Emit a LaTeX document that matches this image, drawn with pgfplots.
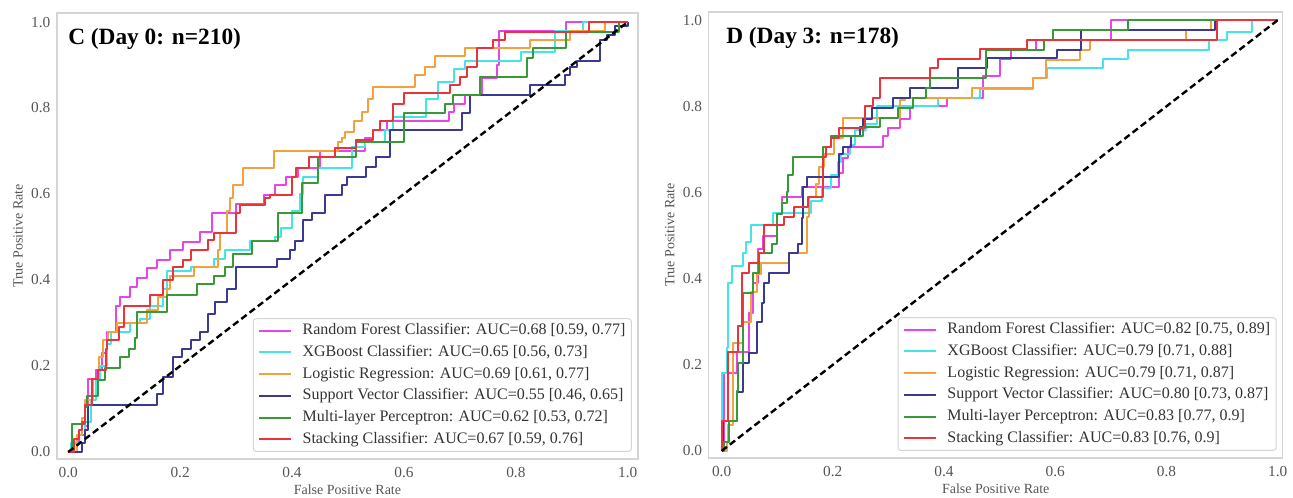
\documentclass[border=0pt]{standalone}
\usepackage{fontspec}
\setmainfont{Liberation Serif}
\usepackage{pgfplots}
\pgfplotsset{compat=1.18}
\usetikzlibrary{calc}

\definecolor{rfcol}{HTML}{E845E8}
\definecolor{xgbcol}{HTML}{45E5E5}
\definecolor{lrcol}{HTML}{F2A13C}
\definecolor{svccol}{HTML}{3A3A90}
\definecolor{mlpcol}{HTML}{379A37}
\definecolor{stkcol}{HTML}{E8343A}
\definecolor{framegray}{HTML}{D5D5D5}
\definecolor{tickgray}{HTML}{555555}

\pgfplotsset{
  roc/.style={
    scale only axis,
    axis line style={draw=framegray, line width=1pt},
    major tick length=0pt, tick style={draw=none},
    xtick={0,0.2,0.4,0.6,0.8,1}, ytick={0,0.2,0.4,0.6,0.8,1},
    /pgf/number format/.cd, fixed, fixed zerofill, precision=1, assume math mode=true, /pgfplots/.cd,
    ticklabel style={font=\fontsize{11.5}{13}\selectfont, text=tickgray},
    xticklabel style={yshift=-3pt},
    yticklabel style={xshift=-1.5pt},
    xlabel={False Positive Rate}, ylabel={True Positive Rate},
    xlabel style={font=\fontsize{10.5}{12}\selectfont, text=tickgray, at={(rel axis cs:0.5,0)}, anchor=center, yshift=-23.25pt},
    ylabel style={font=\fontsize{10.5}{12}\selectfont, text=tickgray, at={($(rel axis cs:0,0.5)+(-29.25pt,0)$)}, anchor=center},
    legend cell align=left,
    legend style={at={(1,0)}, anchor=south east, xshift=-4.5pt, yshift=5.25pt,
      draw=framegray, line width=0.75pt, rounded corners=2pt, fill=white, fill opacity=0.85, text opacity=1,
      font=\fontsize{12}{14}\selectfont, text=black!80, inner xsep=3.5pt, inner ysep=2pt,
      nodes={inner sep=1pt, text height=9pt, text depth=3pt}, row sep=2.3pt, column sep=7pt},
    legend image code/.code={\draw[##1, line width=1.5pt] (0pt,0pt) -- (24pt,0pt);},
    every axis plot/.append style={const plot mark left, no marks, line width=1.5pt, line join=round},
  },
  diag/.style={black, dash pattern=on 5pt off 2.8pt, line width=1.8pt, sharp plot, forget plot},
}

\begin{document}
\begin{tikzpicture}
\path[use as bounding box] (0,0) rectangle (970pt,373.5pt);

% Panel C: Day 0
\begin{axis}[roc, at={(42.75pt,29.25pt)}, anchor=south west,
  width=435.75pt, height=334.5pt,
  xmin=-0.02, xmax=1.018, ymin=-0.016, ymax=1.021]
\addplot[rfcol] coordinates {
 (0,0) (0.01,0.02) (0.02,0.04) (0.03,0.06) (0.036,0.17) (0.05,0.19) (0.06,0.23) (0.07,0.28)
 (0.085,0.34) (0.093,0.36) (0.111,0.384) (0.123,0.404) (0.14,0.427) (0.158,0.447) (0.182,0.47)
 (0.206,0.489) (0.236,0.512) (0.257,0.555) (0.30,0.577) (0.35,0.598) (0.37,0.62) (0.39,0.64)
 (0.41,0.66) (0.45,0.70) (0.53,0.73) (0.545,0.75) (0.57,0.77) (0.68,0.79) (0.69,0.81)
 (0.71,0.83) (0.74,0.87) (0.766,0.90) (0.77,0.98) (0.89,1.0) (1,1)};
\addplot[xgbcol] coordinates {
 (0,0) (0.005,0.02) (0.03,0.07) (0.04,0.12) (0.05,0.17) (0.057,0.2) (0.07,0.25) (0.077,0.28)
 (0.11,0.30) (0.129,0.31) (0.146,0.34) (0.17,0.38) (0.177,0.42) (0.22,0.43) (0.26,0.45)
 (0.28,0.47) (0.325,0.49) (0.37,0.50) (0.38,0.52) (0.40,0.56) (0.415,0.60) (0.42,0.64)
 (0.447,0.66) (0.507,0.71) (0.53,0.72) (0.566,0.75) (0.58,0.78) (0.64,0.82) (0.66,0.86)
 (0.69,0.89) (0.71,0.91) (0.81,0.93) (0.87,0.98) (0.92,1.0) (1,1)};
\addplot[lrcol] coordinates {
 (0,0) (0.016,0.04) (0.025,0.08) (0.03,0.12) (0.045,0.17) (0.055,0.22) (0.063,0.26) (0.071,0.28)
 (0.087,0.30) (0.14,0.33) (0.16,0.36) (0.177,0.38) (0.182,0.41) (0.224,0.43) (0.268,0.47)
 (0.272,0.51) (0.283,0.56) (0.29,0.59) (0.295,0.62) (0.313,0.66) (0.367,0.70) (0.483,0.72)
 (0.49,0.73) (0.495,0.745) (0.51,0.77) (0.525,0.79) (0.535,0.82) (0.545,0.85) (0.62,0.877)
 (0.637,0.895) (0.655,0.92) (0.71,0.94) (0.825,0.958) (0.896,0.98) (0.96,1.0) (1,1)};
\addplot[svccol] coordinates {
 (0,0) (0.024,0.02) (0.03,0.05) (0.036,0.11) (0.159,0.136) (0.17,0.175) (0.188,0.22) (0.203,0.24)
 (0.22,0.26) (0.236,0.28) (0.25,0.32) (0.262,0.35) (0.283,0.38) (0.30,0.43) (0.373,0.45)
 (0.396,0.47) (0.405,0.49) (0.42,0.54) (0.435,0.556) (0.459,0.598) (0.49,0.62) (0.498,0.64)
 (0.533,0.663) (0.55,0.686) (0.575,0.749) (0.703,0.788) (0.718,0.83) (0.825,0.853)
 (0.887,0.877) (0.896,0.895) (0.909,0.91) (0.95,0.958) (0.962,0.97) (0.977,0.99) (1,1)};
\addplot[mlpcol] coordinates {
 (0,0) (0.007,0.064) (0.03,0.105) (0.034,0.13) (0.054,0.167) (0.066,0.195) (0.093,0.22)
 (0.108,0.24) (0.12,0.265) (0.123,0.325) (0.176,0.365) (0.23,0.39) (0.26,0.41) (0.28,0.43)
 (0.295,0.46) (0.328,0.49) (0.375,0.556) (0.417,0.625) (0.447,0.687) (0.515,0.72) (0.60,0.788)
 (0.673,0.81) (0.688,0.83) (0.736,0.872) (0.82,0.916) (0.83,0.94) (0.89,0.977) (0.985,1.0) (1,1)};
\addplot[stkcol] coordinates {
 (0,0) (0.01,0.03) (0.02,0.05) (0.025,0.07) (0.03,0.11) (0.042,0.17) (0.054,0.19) (0.068,0.24)
 (0.07,0.26) (0.09,0.29) (0.10,0.34) (0.146,0.365) (0.17,0.40) (0.188,0.43) (0.206,0.447)
 (0.22,0.47) (0.25,0.493) (0.26,0.51) (0.30,0.555) (0.307,0.574) (0.352,0.59) (0.36,0.598)
 (0.40,0.64) (0.408,0.66) (0.43,0.686) (0.477,0.707) (0.515,0.726) (0.545,0.749) (0.557,0.77)
 (0.58,0.81) (0.60,0.835) (0.682,0.853) (0.70,0.872) (0.712,0.895) (0.73,0.94) (0.76,0.958)
 (0.78,0.977) (0.93,1.0) (1,1)};
\addplot[diag] coordinates {(0,0) (1,1)};
\legend{Random Forest Classifier: AUC=0.68 [0.59{,} 0.77],
        XGBoost Classifier: AUC=0.65 [0.56{,} 0.73],
        Logistic Regression: AUC=0.69 [0.61{,} 0.77],
        Support Vector Classifier: AUC=0.55 [0.46{,} 0.65],
        Multi-layer Perceptron: AUC=0.62 [0.53{,} 0.72],
        Stacking Classifier: AUC=0.67 [0.59{,} 0.76]}
\node[anchor=north west, inner sep=0pt, font=\fontsize{17.5}{20}\selectfont\bfseries]
  at (rel axis cs:0.019,0.966) {C (Day 0: n=210)};
\end{axis}

% Panel D: Day 3
\begin{axis}[roc, at={(531.75pt,30pt)}, anchor=south west,
  width=430.5pt, height=334.5pt,
  xmin=-0.023, xmax=1.009, ymin=-0.016, ymax=1.019]
\addplot[rfcol] coordinates {
 (0,0) (0.005,0.09) (0.005,0.18) (0.027,0.23) (0.05,0.32) (0.056,0.39) (0.065,0.47) (0.074,0.50)
 (0.1,0.55) (0.108,0.59) (0.144,0.613) (0.212,0.645) (0.218,0.68) (0.227,0.705) (0.29,0.73)
 (0.30,0.75) (0.32,0.77) (0.338,0.80) (0.405,0.82) (0.47,0.87) (0.5,0.91) (0.52,0.93)
 (0.566,0.954) (0.70,1.0) (1,1)};
\addplot[xgbcol] coordinates {
 (0,0) (0,0.18) (0.01,0.24) (0.011,0.39) (0.018,0.43) (0.038,0.46) (0.044,0.485) (0.053,0.524)
 (0.092,0.552) (0.16,0.58) (0.18,0.61) (0.197,0.64) (0.21,0.67) (0.215,0.69) (0.23,0.71)
 (0.24,0.745) (0.26,0.76) (0.28,0.80) (0.39,0.82) (0.465,0.84) (0.56,0.865) (0.585,0.89)
 (0.685,0.91) (0.73,0.93) (0.877,0.954) (0.908,0.972) (0.953,1.0) (1,1)};
\addplot[lrcol] coordinates {
 (0,0) (0.01,0.02) (0.012,0.06) (0.02,0.25) (0.038,0.30) (0.053,0.37) (0.063,0.41) (0.07,0.436)
 (0.122,0.46) (0.153,0.543) (0.158,0.59) (0.17,0.62) (0.176,0.66) (0.185,0.69) (0.203,0.726)
 (0.218,0.773) (0.32,0.814) (0.33,0.82) (0.45,0.842) (0.56,0.866) (0.584,0.907) (0.644,0.93)
 (0.662,0.954) (0.836,0.977) (0.88,1.0) (1,1)};
\addplot[svccol] coordinates {
 (0,0) (0.002,0.07) (0.027,0.137) (0.038,0.205) (0.05,0.227) (0.063,0.30) (0.072,0.343)
 (0.077,0.39) (0.086,0.413) (0.122,0.46) (0.137,0.48) (0.144,0.54) (0.146,0.613) (0.153,0.636)
 (0.212,0.69) (0.218,0.705) (0.233,0.73) (0.248,0.752) (0.254,0.77) (0.27,0.795) (0.308,0.82)
 (0.338,0.842) (0.425,0.888) (0.478,0.912) (0.604,0.93) (0.647,0.977) (0.887,1.0) (1,1)};
\addplot[mlpcol] coordinates {
 (0,0) (0.005,0.02) (0.014,0.07) (0.027,0.14) (0.03,0.205) (0.038,0.366) (0.056,0.413)
 (0.068,0.46) (0.09,0.48) (0.099,0.55) (0.108,0.575) (0.117,0.60) (0.119,0.64) (0.128,0.683)
 (0.182,0.705) (0.197,0.73) (0.254,0.752) (0.284,0.773) (0.317,0.795) (0.344,0.82)
 (0.368,0.842) (0.374,0.866) (0.476,0.93) (0.58,0.954) (0.596,0.977) (0.73,1.0) (1,1)};
\addplot[stkcol] coordinates {
 (0,0) (0,0.07) (0.011,0.23) (0.029,0.29) (0.036,0.413) (0.05,0.436) (0.068,0.46) (0.077,0.524)
 (0.113,0.543) (0.131,0.566) (0.155,0.59) (0.182,0.683) (0.188,0.705) (0.197,0.726) (0.212,0.75)
 (0.257,0.80) (0.272,0.82) (0.284,0.865) (0.374,0.888) (0.389,0.91) (0.464,0.932) (0.55,0.954)
 (0.89,1.0) (1,1)};
\addplot[diag] coordinates {(0,0) (1,1)};
\legend{Random Forest Classifier: AUC=0.82 [0.75{,} 0.89],
        XGBoost Classifier: AUC=0.79 [0.71{,} 0.88],
        Logistic Regression: AUC=0.79 [0.71{,} 0.87],
        Support Vector Classifier: AUC=0.80 [0.73{,} 0.87],
        Multi-layer Perceptron: AUC=0.83 [0.77{,} 0.9],
        Stacking Classifier: AUC=0.83 [0.76{,} 0.9]}
\node[anchor=north west, inner sep=0pt, font=\fontsize{17.5}{20}\selectfont\bfseries]
  at (rel axis cs:0.03,0.966) {D (Day 3: n=178)};
\end{axis}
\end{tikzpicture}
\end{document}
